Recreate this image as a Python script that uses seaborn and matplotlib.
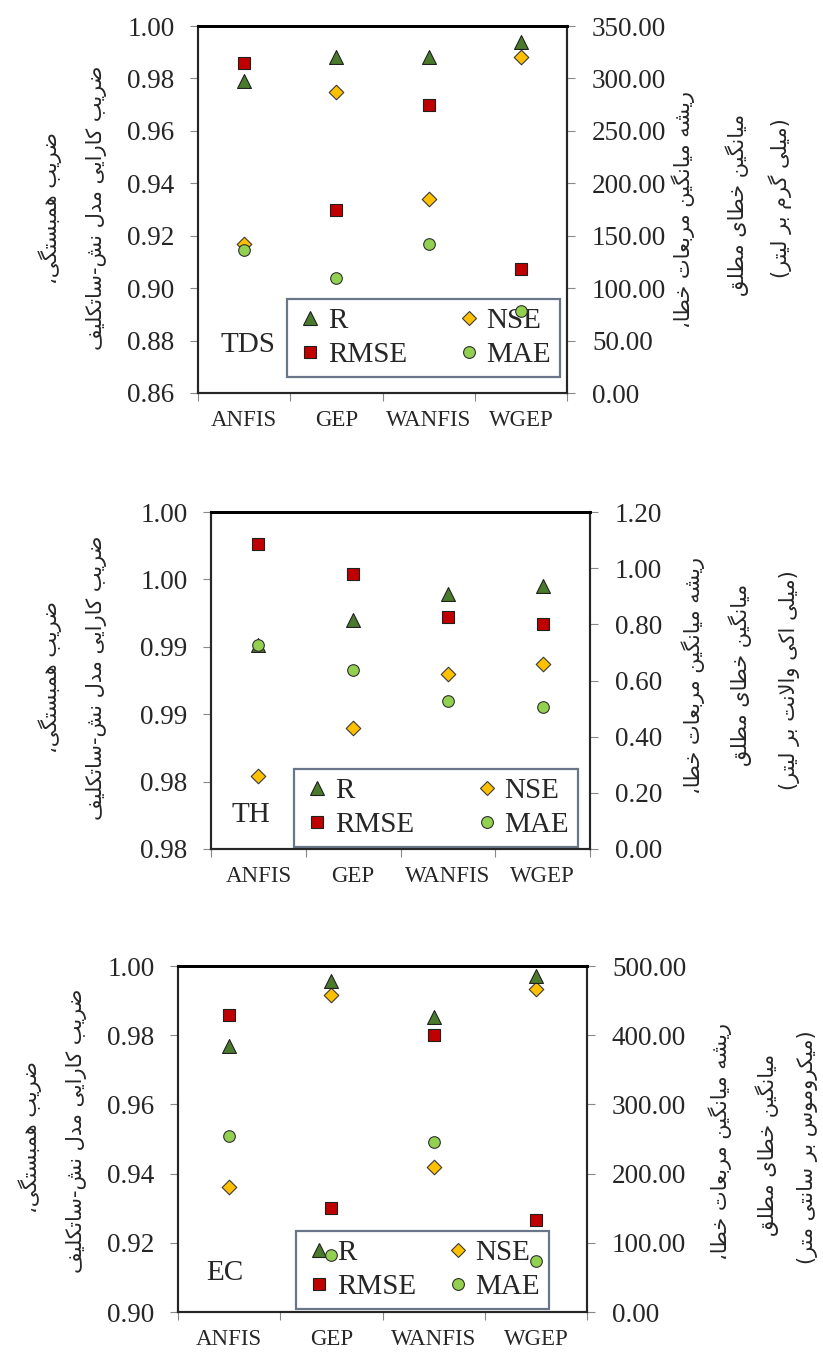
import numpy as np
import matplotlib
matplotlib.use("Agg")
import matplotlib.pyplot as plt
import seaborn as sns
from matplotlib.ticker import MultipleLocator, FuncFormatter
from matplotlib.lines import Line2D

sns.set_style("ticks")
plt.rcParams['font.family'] = ['Liberation Serif', 'DejaVu Sans']

# ---- data ----
models = ["ANFIS", "GEP", "WANFIS", "WGEP"]

tds_r = [0.979, 0.988, 0.988, 0.994]
tds_nse = [0.917, 0.975, 0.934, 0.988]
tds_rmse = [315, 175, 275, 118]
tds_mae = [136, 110, 142, 78]

th_r = [0.9901, 0.9920, 0.9939, 0.9945]
th_nse = [0.9804, 0.9840, 0.9880, 0.9887]
th_rmse = [1.085, 0.980, 0.825, 0.800]
th_mae = [0.726, 0.638, 0.527, 0.507]

ec_r = [0.977, 0.9958, 0.9853, 0.9971]
ec_nse = [0.9362, 0.9915, 0.9419, 0.9934]
ec_rmse = [429, 151, 400, 133]
ec_mae = [255, 82, 245, 74]

left_label_1 = "ضریب همبستگی،"
left_label_2 = "ضریب کارایی مدل نش-ساتکلیف"
right_label_1 = "ریشه میانگین مربعات خطا،"
right_label_2 = "میانگین خطای مطلق"
units = ["(میلی گرم بر لیتر)", "(میلی اکی والانت بر لیتر)", "(میکروموس بر سانتی متر)"]
panel_names = ["TDS", "TH", "EC"]

# ---- minimal Persian shaping (matplotlib has no complex text layout) ----
FORMS = {
    'ا': ('\uFE8D', '\uFE8E', None, None),
    'ب': ('\uFE8F', '\uFE90', '\uFE91', '\uFE92'),
    'ت': ('\uFE95', '\uFE96', '\uFE97', '\uFE98'),
    'خ': ('\uFEA5', '\uFEA6', '\uFEA7', '\uFEA8'),
    'د': ('\uFEA9', '\uFEAA', None, None),
    'ر': ('\uFEAD', '\uFEAE', None, None),
    'س': ('\uFEB1', '\uFEB2', '\uFEB3', '\uFEB4'),
    'ش': ('\uFEB5', '\uFEB6', '\uFEB7', '\uFEB8'),
    'ض': ('\uFEBD', '\uFEBE', '\uFEBF', '\uFEC0'),
    'ط': ('\uFEC1', '\uFEC2', '\uFEC3', '\uFEC4'),
    'ع': ('\uFEC9', '\uFECA', '\uFECB', '\uFECC'),
    'ف': ('\uFED1', '\uFED2', '\uFED3', '\uFED4'),
    'ق': ('\uFED5', '\uFED6', '\uFED7', '\uFED8'),
    'ل': ('\uFEDD', '\uFEDE', '\uFEDF', '\uFEE0'),
    'م': ('\uFEE1', '\uFEE2', '\uFEE3', '\uFEE4'),
    'ن': ('\uFEE5', '\uFEE6', '\uFEE7', '\uFEE8'),
    'ه': ('\uFEE9', '\uFEEA', '\uFEEB', '\uFEEC'),
    'و': ('\uFEED', '\uFEEE', None, None),
    'ک': ('\uFB8E', '\uFB8F', '\uFB90', '\uFB91'),
    'گ': ('\uFB92', '\uFB93', '\uFB94', '\uFB95'),
    'ی': ('\uFBFC', '\uFBFD', '\uFBFE', '\uFBFF'),
}


def joins_forward(ch):
    return ch in FORMS and FORMS[ch][2] is not None


def shape(text):
    res = []
    i, n = 0, len(text)
    while i < n:
        c = text[i]
        if c not in FORMS:
            res.append(c)
            i += 1
            continue
        jp = i > 0 and joins_forward(text[i - 1])
        if c == 'ل' and i + 1 < n and text[i + 1] == 'ا':
            res.append('\uFEFC' if jp else '\uFEFB')
            i += 2
            continue
        jn = FORMS[c][2] is not None and i + 1 < n and text[i + 1] in FORMS
        iso, fin, ini, med = FORMS[c]
        res.append(med if (jp and jn) else fin if jp else ini if jn else iso)
        i += 1
    vis = ''.join(reversed(res))
    return vis.translate(str.maketrans('()', ')('))


def fmt2(v, pos):
    return f"{round(v + 1e-9, 2):.2f}"


W, H = 823, 1352
fig = plt.figure(figsize=(W / 100, H / 100), dpi=100)

# axes boxes in pixels: left, right, top, bottom
boxes = [(198, 567, 26, 393), (211, 590, 512, 849), (178, 587, 966, 1312)]
left_lims = [(0.86, 1.00, 0.02), (0.975, 1.00, 0.005), (0.90, 1.00, 0.02)]
right_lims = [(0, 350, 50), (0, 1.2, 0.2), (0, 500, 100)]
legend_boxes = [(287, 560, 298, 378), (294, 578, 773, 843), (296, 549, 1234, 1306)]
name_pos = [(0.06, 0.13), (0.055, 0.10), (0.07, 0.113)]
left_text_pos = [((50, 208), (97, 208)), ((50, 677), (97, 678)), ((30, 1137), (77, 1131))]
right_text_pos = [((683, 209), (737, 205), (780, 198)),
                  ((693, 675), (740, 675), (790, 680)),
                  ((720, 1142), (767, 1145), (807, 1147))]

series = [(tds_r, tds_nse, tds_rmse, tds_mae),
          (th_r, th_nse, th_rmse, th_mae),
          (ec_r, ec_nse, ec_rmse, ec_mae)]

c_r, c_nse, c_rmse, c_mae = "#4A7A2C", "#FFC000", "#C00000", "#92D050"
spine_col = "#262626"

for k in range(3):
    l, r, t, b = boxes[k]
    ax = fig.add_axes([l / W, 1 - b / H, (r - l) / W, (b - t) / H])
    ax2 = ax.twinx()
    rv, nv, rmv, mv = series[k]

    sns.scatterplot(x=models, y=nv, ax=ax, marker="D", s=55, color=c_nse,
                    edgecolor="#3a3a3a", linewidth=0.8, zorder=3)
    sns.scatterplot(x=models, y=rv, ax=ax, marker="^", s=100, color=c_r,
                    edgecolor="#202020", linewidth=0.8, zorder=3)
    sns.scatterplot(x=models, y=rmv, ax=ax2, marker="s", s=70, color=c_rmse,
                    edgecolor="#202020", linewidth=0.8, zorder=3)
    sns.scatterplot(x=models, y=mv, ax=ax2, marker="o", s=70, color=c_mae,
                    edgecolor="#303030", linewidth=0.8, zorder=3)

    lo, hi, st = left_lims[k]
    ax.set_ylim(lo, hi)
    ax.yaxis.set_major_locator(MultipleLocator(st))
    ax.yaxis.set_major_formatter(FuncFormatter(fmt2))
    lo2, hi2, st2 = right_lims[k]
    ax2.set_ylim(lo2, hi2)
    ax2.yaxis.set_major_locator(MultipleLocator(st2))
    ax2.yaxis.set_major_formatter(FuncFormatter(fmt2))

    ax.set_xlim(-0.5, 3.5)
    ax.set_xticks(np.arange(-0.5, 4.0, 1.0))
    ax.set_xticklabels([])
    ax.set_xticks(range(len(models)), minor=True)
    ax.set_xticklabels(models, minor=True, fontsize=16.5)
    ax.tick_params(axis="x", which="minor", length=0, pad=12)
    ax.tick_params(axis="x", which="major", length=6, color="#888888", direction="out")
    ax.tick_params(axis="y", length=6, color="#888888", labelsize=19.5, pad=11)
    ax2.tick_params(axis="y", length=6, color="#888888", labelsize=19.5, pad=12)
    ax.set_ylabel("")
    ax2.set_ylabel("")

    for a in (ax, ax2):
        for s in a.spines.values():
            s.set_color(spine_col)
            s.set_linewidth(1.5)
        a.spines["top"].set_color("black")
        a.spines["top"].set_linewidth(2)

    ax.text(name_pos[k][0], name_pos[k][1], panel_names[k], transform=ax.transAxes,
            fontsize=21, ha="left", va="center")

    handles = [
        Line2D([], [], ls="", marker="^", ms=10, mfc=c_r, mec="#202020", mew=0.8),
        Line2D([], [], ls="", marker="s", ms=8.5, mfc=c_rmse, mec="#202020", mew=0.8),
        Line2D([], [], ls="", marker="D", ms=7.5, mfc=c_nse, mec="#3a3a3a", mew=0.8),
        Line2D([], [], ls="", marker="o", ms=8.5, mfc=c_mae, mec="#303030", mew=0.8),
    ]
    labels = ["R", "RMSE", "NSE", "MAE"]
    gl, gr, gt, gb = legend_boxes[k]
    bb = ((gl - l) / (r - l), (b - gb) / (b - t), (gr - gl) / (r - l), (gb - gt) / (b - t))
    leg = ax2.legend(handles, labels, ncol=2, loc="center", bbox_to_anchor=bb,
                     mode="expand", fontsize=21, frameon=True, fancybox=False,
                     handletextpad=0.1, handlelength=1.0, labelspacing=0.25,
                     borderpad=0.3, borderaxespad=0, columnspacing=1.0)
    leg.get_frame().set_edgecolor("#44546A")
    leg.get_frame().set_linewidth(1.6)
    leg.set_zorder(2)

    for (px, py), txt in zip(left_text_pos[k], [left_label_1, left_label_2]):
        fig.text(px / W, 1 - py / H, shape(txt), rotation=90, ha="center", va="center",
                 fontsize=15, family=["DejaVu Sans"])
    for (px, py), txt in zip(right_text_pos[k], [right_label_1, right_label_2, units[k]]):
        fig.text(px / W, 1 - py / H, shape(txt), rotation=90, ha="center", va="center",
                 fontsize=15, family=["DejaVu Sans"])

fig.savefig("out.png", dpi=100, facecolor="white")
